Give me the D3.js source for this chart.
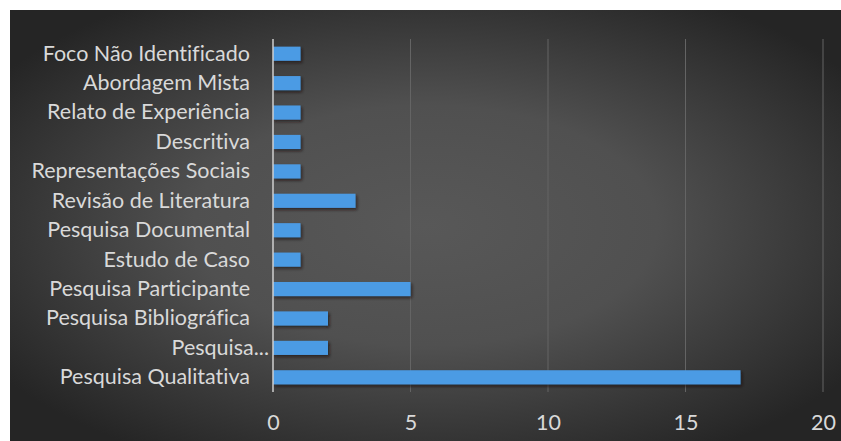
<!DOCTYPE html>
<html>
<head>
<meta charset="utf-8">
<script src="https://cdn.jsdelivr.net/npm/d3@7"></script>
<style>
  html, body { margin: 0; padding: 0; background: #ffffff; }
  svg { display: block; }
  text { font-family: Lato, "Open Sans", sans-serif; font-variant-ligatures: none; }
</style>
</head>
<body>
<div id="chart"></div>
<script>
// Categories listed top to bottom, with their counts
const categories = [
  "Foco Não Identificado",
  "Abordagem Mista",
  "Relato de Experiência",
  "Descritiva",
  "Representações Sociais",
  "Revisão de Literatura",
  "Pesquisa Documental",
  "Estudo de Caso",
  "Pesquisa Participante",
  "Pesquisa Bibliográfica",
  "Pesquisa...",
  "Pesquisa Qualitativa"
];
const counts = [1, 1, 1, 1, 1, 3, 1, 1, 5, 2, 2, 17];
const xTicks = [0, 5, 10, 15, 20];

const W = 841, H = 441;
const margin = { top: 39, right: 18, bottom: 49, left: 273 };
const FONT = 21.5;

const svg = d3.select("#chart").append("svg")
  .attr("width", W).attr("height", H);

const defs = svg.append("defs");
const grad = defs.append("radialGradient")
  .attr("id", "bgGrad")
  .attr("cx", "50%").attr("cy", "50%").attr("r", "62%");
grad.append("stop").attr("offset", "0%").attr("stop-color", "#585858");
grad.append("stop").attr("offset", "45%").attr("stop-color", "#505050");
grad.append("stop").attr("offset", "100%").attr("stop-color", "#252525");

const shadow = defs.append("filter").attr("id", "barShadow")
  .attr("x", "-10%").attr("y", "-40%").attr("width", "125%").attr("height", "190%");
shadow.append("feDropShadow")
  .attr("dx", 1.5).attr("dy", 2).attr("stdDeviation", 1.6)
  .attr("flood-color", "#1c1510").attr("flood-opacity", 0.7);

// chart area background
svg.append("rect")
  .attr("x", 10).attr("y", 10)
  .attr("width", W - 10).attr("height", H - 10)
  .attr("fill", "url(#bgGrad)");

const x = d3.scaleLinear().domain([0, 20])
  .range([margin.left, W - margin.right]);
const y = d3.scaleBand().domain(categories)
  .range([margin.top, H - margin.bottom])
  .paddingInner(0.52).paddingOuter(0.26);

// vertical gridlines
svg.append("g")
  .selectAll("line")
  .data(xTicks.filter(t => t > 0))
  .join("line")
  .attr("x1", d => x(d)).attr("x2", d => x(d))
  .attr("y1", margin.top).attr("y2", H - margin.bottom)
  .attr("stroke", "#646464").attr("stroke-width", 1);

// bars
svg.append("g")
  .selectAll("rect")
  .data(categories.map((c, i) => ({ c, v: counts[i] })))
  .join("rect")
  .attr("x", x(0))
  .attr("y", d => y(d.c))
  .attr("width", d => x(d.v) - x(0))
  .attr("height", y.bandwidth())
  .attr("fill", "#4c9be4")
  .attr("filter", "url(#barShadow)");

// value axis labels
const xAxis = d3.axisBottom(x).tickValues(xTicks).tickSize(0).tickPadding(0);
const gx = svg.append("g")
  .attr("transform", `translate(0,${H - margin.bottom + 23})`)
  .call(xAxis);
gx.select(".domain").remove();
gx.selectAll("text")
  .attr("fill", "#d9d9d9")
  .attr("font-size", FONT)
  .attr("font-family", "Lato, sans-serif")
  .attr("dy", "0.72em");

// category axis labels
const yAxis = d3.axisLeft(y).tickSize(0).tickPadding(23);
const gy = svg.append("g")
  .attr("transform", `translate(${x(0)},0)`)
  .call(yAxis);
gy.select(".domain").remove();
gy.selectAll("text")
  .attr("fill", "#d9d9d9")
  .attr("font-size", FONT)
  .attr("font-family", "Lato, sans-serif")
  .attr("dx", d => d === "Pesquisa..." ? 19 : 0);

// category axis line
svg.append("line")
  .attr("x1", x(0)).attr("x2", x(0))
  .attr("y1", margin.top).attr("y2", H - margin.bottom)
  .attr("stroke", "#cfcfcf").attr("stroke-width", 1.5);
</script>
</body>
</html>
